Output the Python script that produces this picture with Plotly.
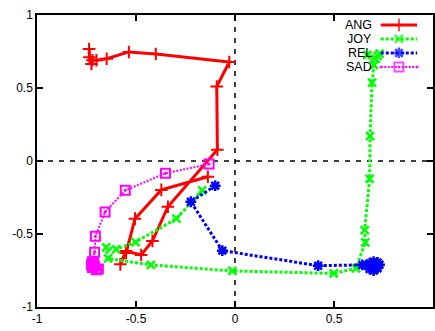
import plotly.graph_objects as go

# ---------------- data ----------------
ang_x = [-0.737, -0.735, -0.725, -0.72, -0.70, -0.648, -0.536, -0.40, -0.029, -0.092, -0.089,
         -0.339, -0.417, -0.474, -0.551, -0.579, -0.55, -0.505, -0.372, -0.137]
ang_y = [0.767, 0.71, 0.665, 0.69, 0.69, 0.70, 0.747, 0.733, 0.678, 0.51, 0.077,
         -0.313, -0.548, -0.644, -0.616, -0.708, -0.63, -0.395, -0.198, -0.108]

joy_x = [0.72, 0.73, 0.71, 0.668, 0.702, 0.692, 0.682, 0.68, 0.655, 0.658, 0.611, 0.499,
         -0.013, -0.425, -0.641, -0.651, -0.60, -0.502, -0.296, -0.166]
joy_y = [0.72, 0.735, 0.70, 0.726, 0.658, 0.536, 0.171, -0.123, -0.473, -0.557, -0.735, -0.77,
         -0.753, -0.712, -0.667, -0.591, -0.605, -0.555, -0.395, -0.201]

rel_x = [-0.10, -0.223, -0.064, 0.42, 0.643, 0.68, 0.70, 0.72, 0.73, 0.72, 0.70, 0.68, 0.69, 0.71, 0.665]
rel_y = [-0.169, -0.279, -0.614, -0.717, -0.712, -0.70, -0.69, -0.695, -0.71, -0.735, -0.75, -0.74, -0.72, -0.71, -0.715]

sad_x = [-0.131, -0.351, -0.554, -0.656, -0.705, -0.709, -0.72, -0.725, -0.71, -0.72, -0.70, -0.69, -0.715]
sad_y = [-0.021, -0.084, -0.201, -0.349, -0.516, -0.625, -0.69, -0.71, -0.72, -0.73, -0.745, -0.74, -0.70]

names = ["ANG", "JOY", "REL", "SAD"]
tick_vals = [-1, -0.5, 0, 0.5, 1]
tick_text = ["-1", "-0.5", "0", "0.5", "1"]

# ---------------- styles ----------------
styles = {
    "ANG": dict(color="#ff0000", dash="solid", width=3, symbol="cross-thin-open", size=9, mlw=2),
    "JOY": dict(color="#00ff00", dash="3px,2px", width=3, symbol="x-thin-open", size=8, mlw=2.5),
    "REL": dict(color="#0000ff", dash="3px,2px", width=3, symbol="asterisk-open", size=9, mlw=2.5),
    "SAD": dict(color="#ff00ff", dash="2px,1.5px", width=2, symbol="square-open-dot", size=9, mlw=2),
}
series = {"ANG": (ang_x, ang_y), "JOY": (joy_x, joy_y), "REL": (rel_x, rel_y), "SAD": (sad_x, sad_y)}

fig = go.Figure()
for n in names:
    s = styles[n]
    x, y = series[n]
    fig.add_trace(go.Scatter(
        x=x, y=y, mode="lines+markers", name=n, showlegend=False,
        line=dict(color=s["color"], width=s["width"], dash=s["dash"]),
        marker=dict(symbol=s["symbol"], size=s["size"], color=s["color"],
                    line=dict(color=s["color"], width=s["mlw"])),
    ))

# ---------------- legend (text left, key right, as in gnuplot) ----------------
row_y = [0.966, 0.918, 0.870, 0.822]
key_x0, key_x1 = 0.868, 0.960
for n, ry in zip(names, row_y):
    s = styles[n]
    fig.add_trace(go.Scatter(
        x=[key_x0, (key_x0 + key_x1) / 2, key_x1], y=[ry, ry, ry],
        xaxis="x2", yaxis="y2", mode="lines+markers", showlegend=False, hoverinfo="skip",
        line=dict(color=s["color"], width=s["width"], dash=s["dash"]),
        marker=dict(symbol=s["symbol"], size=[0, s["size"], 0], color=s["color"],
                    line=dict(color=s["color"], width=s["mlw"])),
    ))
    fig.add_annotation(x=0.848, y=ry, xref="paper", yref="paper", text=n, showarrow=False,
                       xanchor="right", yanchor="middle", borderpad=0,
                       font=dict(family="Liberation Sans, Arial, sans-serif", size=12.5, color="black"))

axis_common = dict(
    range=[-1, 1], tickmode="array", tickvals=tick_vals, ticktext=tick_text,
    ticks="inside", ticklen=6, tickwidth=1.5, tickcolor="black",
    showline=True, linecolor="black", linewidth=1.5, mirror="ticks",
    showgrid=False, zeroline=False, automargin=False,
    tickfont=dict(family="Liberation Sans, Arial, sans-serif", size=12, color="black"),
)

fig.update_layout(
    width=435, height=331,
    margin=dict(l=37, r=2, t=15, b=24, autoexpand=False),
    paper_bgcolor="white", plot_bgcolor="white",
    xaxis=dict(**axis_common),
    yaxis=dict(**axis_common),
    xaxis2=dict(range=[0, 1], overlaying="x", visible=False, fixedrange=True),
    yaxis2=dict(range=[0, 1], overlaying="y", visible=False, fixedrange=True),
    shapes=[
        dict(type="line", xref="x", yref="paper", x0=0, x1=0, y0=0, y1=1,
             line=dict(color="black", width=1.5, dash="5px,6px"), layer="below"),
        dict(type="line", xref="paper", yref="y", x0=0, x1=1, y0=0, y1=0,
             line=dict(color="black", width=1.5, dash="5px,6px"), layer="below"),
    ],
)

fig.write_html("out.html", config={"displayModeBar": False},
               post_script="document.body.style.margin='0';")
